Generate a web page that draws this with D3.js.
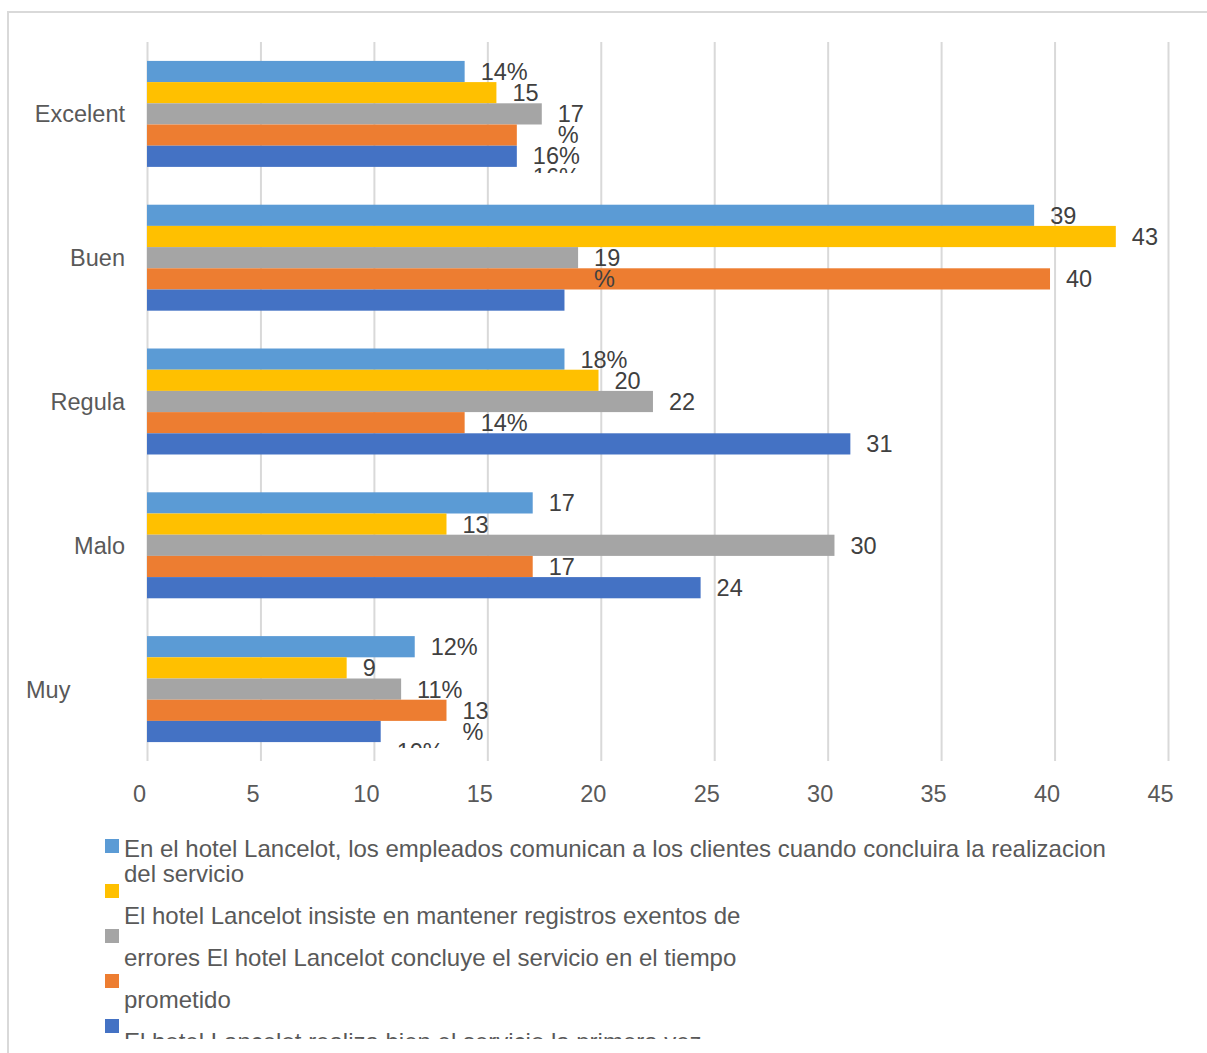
<!DOCTYPE html>
<html>
<head>
<meta charset="utf-8">
<script src="https://cdn.jsdelivr.net/npm/d3@7"></script>
<style>
  html, body { margin: 0; padding: 0; background: #fff; }
  svg { display: block; font-family: "Liberation Sans", Arial, sans-serif; }
</style>
</head>
<body>
<svg id="chart" width="1207" height="1053"></svg>
<script>
// Rating categories (top to bottom)
const categories = ["Excelent", "Buen", "Regula", "Malo", "Muy"];

// Survey statements, one per series
const seriesNames = [
  "En el hotel Lancelot, los empleados comunican a los clientes cuando concluira la realizacion del servicio",
  "El hotel Lancelot insiste en mantener registros exentos de errores",
  "El hotel Lancelot concluye el servicio en el tiempo prometido",
  "El hotel Lancelot realiza bien el servicio la primera vez",
  "El hotel Lancelot realiza bien el servicio la primera vez"
];

// Percentages per series, in category order
const seriesLightBlue = [14.0, 39.1, 18.4, 17.0, 11.8];
const seriesYellow    = [15.4, 42.7, 19.9, 13.2, 8.8];
const seriesGray      = [17.4, 19.0, 22.3, 30.3, 11.2];
const seriesOrange    = [16.3, 39.8, 14.0, 17.0, 13.2];
const seriesBlue      = [16.3, 18.4, 31.0, 24.4, 10.3];

// How each data label is written: "pct" = 14%, "num" = 15, "wrap" = 17 / %, "none" = hidden
const labelStyleLightBlue = ["pct", "num", "pct", "num", "pct"];
const labelStyleYellow    = ["num", "num", "num", "num", "num"];
const labelStyleGray      = ["wrap", "wrap", "num", "num", "pct"];
const labelStyleOrange    = ["pct", "num", "pct", "num", "wrap"];
const labelStyleBlue      = ["pct", "none", "num", "num", "pct"];

// Value axis ticks
const xTicks = [0, 5, 10, 15, 20, 25, 30, 35, 40, 45];

// Legend text as it flows under the chart
const legendLines = [
  "En el hotel Lancelot, los empleados comunican a los clientes cuando concluira la realizacion",
  "del servicio",
  "El hotel Lancelot insiste en mantener registros exentos de",
  "errores El hotel Lancelot concluye el servicio en el tiempo",
  "prometido",
  "El hotel Lancelot realiza bien el servicio la primera vez"
];

const colors = ["#5B9BD5", "#FFC000", "#A5A5A5", "#ED7D31", "#4472C4"];

const series = [
  { values: seriesLightBlue, styles: labelStyleLightBlue },
  { values: seriesYellow,    styles: labelStyleYellow },
  { values: seriesGray,      styles: labelStyleGray },
  { values: seriesOrange,    styles: labelStyleOrange },
  { values: seriesBlue,      styles: labelStyleBlue }
].map((s, i) => ({ ...s, name: seriesNames[i], color: colors[i], index: i }));

const svg = d3.select("#chart");
const FONT = 23.5;
const LEGEND_FONT = 24;
const plot = { left: 147, right: 1168, top: 42, bottom: 761 };

// Chart frame (open to the right and bottom)
svg.append("rect")
  .attr("x", 8).attr("y", 12)
  .attr("width", 1240).attr("height", 1100)
  .attr("fill", "none").attr("stroke", "#d9d9d9").attr("stroke-width", 2);

const x = d3.scaleLinear().domain([0, 45]).range([plot.left, plot.right]);
const y = d3.scaleBand().domain(categories)
  .range([plot.top, plot.bottom])
  .paddingInner(0.263).paddingOuter(0.1315);
const ySub = d3.scaleBand().domain(d3.range(series.length))
  .range([0, y.bandwidth()]);

// Vertical gridlines + value axis labels
const xAxis = d3.axisBottom(x).tickValues(xTicks)
  .tickSize(-(plot.bottom - plot.top)).tickPadding(0);
const gx = svg.append("g")
  .attr("transform", `translate(0,${plot.bottom})`)
  .call(xAxis);
gx.select(".domain").remove();
gx.selectAll(".tick line").attr("stroke", "#d9d9d9").attr("stroke-width", 2);
gx.selectAll(".tick text")
  .attr("fill", "#595959")
  .attr("font-size", FONT)
  .attr("font-family", "Liberation Sans, Arial, sans-serif")
  .attr("x", -8)
  .attr("y", 41)
  .attr("dy", 0);

// Category labels; the last one is a wrapped label whose first line sits flush left
const yAxis = d3.axisLeft(y).tickSize(0).tickPadding(0);
const gy = svg.append("g")
  .attr("transform", `translate(125,0)`)
  .call(yAxis);
gy.select(".domain").remove();
gy.selectAll(".tick text")
  .attr("fill", "#595959")
  .attr("font-size", FONT)
  .attr("font-family", "Liberation Sans, Arial, sans-serif")
  .attr("dy", 0)
  .attr("y", 8.5)
  .filter(c => c === categories[categories.length - 1])
  .attr("text-anchor", "start")
  .attr("x", -99);

// Bars
const groups = svg.append("g").selectAll("g.cat")
  .data(categories)
  .join("g")
  .attr("class", "cat")
  .attr("transform", c => `translate(0,${y(c)})`);

groups.selectAll("rect")
  .data((c, ci) => series.map(s => ({ s, v: s.values[ci], style: s.styles[ci] })))
  .join("rect")
  .attr("x", x(0))
  .attr("y", d => ySub(d.s.index))
  .attr("width", d => x(d.v) - x(0))
  .attr("height", ySub.bandwidth())
  .attr("fill", d => d.s.color);

// Data labels, pushed down when they would collide with a label above
const measurer = svg.append("text").attr("font-size", FONT).attr("visibility", "hidden");
function textWidth(t) { measurer.text(t); return measurer.node().getComputedTextLength(); }

const defs = svg.append("defs");
const LINE = 21, HALF = 10.4, PAD = 12, GAP = 16;

categories.forEach((c, ci) => {
  const top = y(c);
  const clipId = "clip-" + ci;
  defs.append("clipPath").attr("id", clipId)
    .append("rect")
    .attr("x", 0).attr("y", top - 30)
    .attr("width", 1207).attr("height", y.bandwidth() + 30 + 6);

  const layer = svg.append("g").attr("clip-path", `url(#${clipId})`);
  const placed = [];

  series.forEach(s => {
    const v = s.values[ci];
    const style = s.styles[ci];
    if (style === "none") return;
    const n = String(Math.round(v));
    const lines = style === "pct" ? [n + "%"] : style === "wrap" ? [n, "%"] : [n];
    const lx = x(v) + GAP;
    const w = d3.max(lines, textWidth);
    const box = { x0: lx - PAD, x1: lx + w + PAD };
    let cy = top + ySub(s.index) + ySub.bandwidth() / 2;
    let moved = true;
    while (moved) {
      moved = false;
      for (const p of placed) {
        const y0 = cy - HALF, y1 = cy + (lines.length - 1) * LINE + HALF;
        if (box.x0 < p.x1 && box.x1 > p.x0 && y0 < p.y1 && y1 > p.y0) {
          cy = p.y1 + HALF;
          moved = true;
        }
      }
    }
    placed.push({ x0: box.x0, x1: box.x1, y0: cy - HALF, y1: cy + (lines.length - 1) * LINE + HALF });

    layer.append("g").selectAll("text")
      .data(lines)
      .join("text")
      .attr("x", lx)
      .attr("y", (t, li) => cy + 8.4 + li * LINE)
      .attr("font-size", FONT)
      .attr("fill", "#404040")
      .text(t => t);
  });
});
measurer.remove();

// Legend: colour keys on a fixed step, text flowing beside them
const legend = svg.append("g");
legend.selectAll("rect")
  .data(series)
  .join("rect")
  .attr("x", 105)
  .attr("y", (d, i) => 839 + i * 45)
  .attr("width", 14)
  .attr("height", 14)
  .attr("fill", d => d.color);

defs.append("clipPath").attr("id", "legend-clip")
  .append("rect").attr("x", 0).attr("y", 820).attr("width", 1207).attr("height", 219);

legend.append("g").attr("clip-path", "url(#legend-clip)")
  .selectAll("text")
  .data(legendLines)
  .join("text")
  .attr("x", 124)
  .attr("y", (t, i) => i === 0 ? 856.5 : i === 1 ? 881.5 : 881.5 + (i - 1) * 42)
  .attr("font-size", LEGEND_FONT)
  .attr("fill", "#595959")
  .text(t => t);
</script>
</body>
</html>
